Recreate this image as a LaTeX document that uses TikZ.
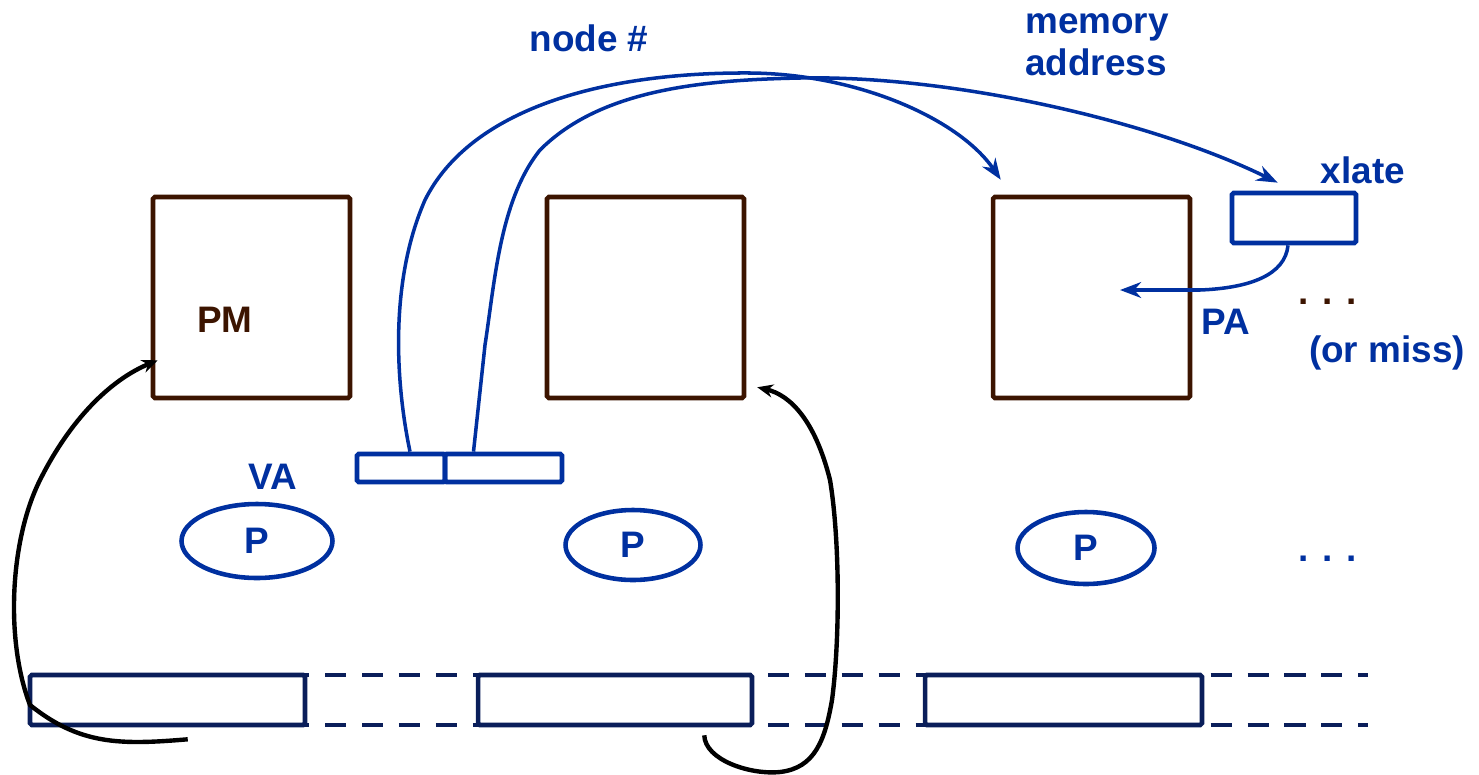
\documentclass[tikz,border=0pt]{standalone}
\usepackage{fontspec}
\setmainfont{Liberation Sans}
\usetikzlibrary{arrows.meta,calc,shapes.geometric}
\definecolor{cblue}{HTML}{0030A0}
\definecolor{cbrown}{HTML}{3C1400}
\definecolor{cnavy}{HTML}{0A1E5A}
\begin{document}
\begin{tikzpicture}[x=0.02cm,y=-0.02cm,
  lbl/.style={font=\fontsize{21}{24}\selectfont\bfseries, text=cblue, inner sep=0pt},
  pmbox/.style={draw=cbrown, line width=2.6pt, minimum width=3.94cm, minimum height=4.02cm, inner sep=0pt, rounded corners=1pt},
  bluebox/.style={draw=cblue, line width=2.7pt, inner sep=0pt, rounded corners=1pt},
  bar/.style={draw=cnavy, line width=2.6pt, minimum height=1.0cm, inner sep=0pt, rounded corners=1pt, fill=white},
  proc/.style={ellipse, draw=cblue, line width=2.6pt, inner sep=0pt},
  bluearc/.style={draw=cblue, line width=2.0pt, -{Stealth[length=12pt,width=9pt]}},
  blackarc/.style={draw=black, line width=2.5pt, -{Stealth[length=9pt,width=7.5pt]}},
  dashline/.style={draw=cnavy, line width=2.4pt, dash pattern=on 12pt off 9pt}
]
\useasboundingbox (0,0) rectangle (1479,774);

% processor memory boxes
\node[pmbox] (m1) at (251.5,297.5) {};
\node[pmbox] (m2) at (645.5,297.5) {};
\node[pmbox] (m3) at (1091.5,297.5) {};
\node[lbl, text=cbrown] (pm) at (225,320) {PM};

% xlate
\node[bluebox, minimum width=2.48cm, minimum height=1.0cm] (xl) at (1294,218) {};
\node[lbl] (xlt) at (1363,170) {xlate};

% VA register
\node[bluebox, minimum width=1.76cm, minimum height=0.56cm] (val) at (401,468) {};
\node[bluebox, minimum width=2.34cm, minimum height=0.56cm] (var) at (503.5,468) {};
\node[lbl] (va) at (273,477) {VA};

% processors
\node[proc, minimum width=3.02cm, minimum height=1.48cm] (p1) at (257,541) {};
\node[proc, minimum width=2.70cm, minimum height=1.40cm] (p2) at (633,545) {};
\node[proc, minimum width=2.74cm, minimum height=1.44cm] (p3) at (1086,548) {};
\node[lbl] at (p1) {P};
\node[lbl] at (p2) {P};
\node[lbl] at (p3) {P};

% network bars
\coordinate (dtop) at (1368,675);
\coordinate (dbot) at (1368,725);
\coordinate (dtopl) at (30,675);
\coordinate (dbotl) at (30,725);
\draw[dashline] (dtopl) -- (dtop);
\draw[dashline] (dbotl) -- (dbot);
\node[bar, minimum width=5.50cm] (b1) at (167.5,700) {};
\node[bar, minimum width=5.48cm] (b2) at (615,700) {};
\node[bar, minimum width=5.54cm] (b3) at (1063.5,700) {};

% labels
\node[lbl] (nodeh) at (589,38) {node \#};
\node[lbl, align=left] (mema) at (1097,45) {memory\\address};
\node[lbl] (pa) at (1226,322) {PA};
\node[lbl] (orm) at (1387,353) {(or miss)};
\node[lbl, text=cbrown] (dots1) at (1328,302) {. . .};
\node[lbl] (dots2) at (1328,559) {. . .};

% blue arcs
\coordinate (t1) at ($(m3.north west)+(10,-15)$);
\coordinate (t2) at ($(xl.north west)+(48,-8)$);
\coordinate (pae) at (1120,290);
\draw[bluearc] ($(val.north)+(9,0)$) .. controls (395,380) and (390,280) .. (425,200)
   .. controls (470,110) and (600,72) .. (750,73)
   .. controls (860,74) and (960,120) .. (t1);
\draw[bluearc] ($(var.north)+(-30,0)$) -- (485,345)
   .. controls (495,280) and (500,200) .. (540,150)
   .. controls (600,90) and (700,80) .. (800,78)
   .. controls (950,75) and (1150,120) .. (t2);
\draw[bluearc] ($(xl.south)+(-6,0)$) .. controls (1285,275) and (1250,288) .. (1200,290) -- (pae);

% black arcs
\coordinate (a1) at ($(m1.south west)+(7,-40)$);
\coordinate (a2) at ($(m2.south east)+(11,-13)$);
\draw[blackarc] ($(b1.south west)+(160,12)$) .. controls (120,745) and (80,745) .. (30,705)
   .. controls (5,640) and (10,540) .. (40,480)
   .. controls (70,420) and (110,380) .. (a1);
\draw[blackarc] ($(b2.south east)+(-50,8)$) .. controls (705,760) and (750,775) .. (780,772)
   .. controls (815,768) and (825,740) .. (832,700)
   .. controls (840,640) and (840,540) .. (830,480)
   .. controls (815,420) and (790,395) .. (a2);
\end{tikzpicture}
\end{document}
